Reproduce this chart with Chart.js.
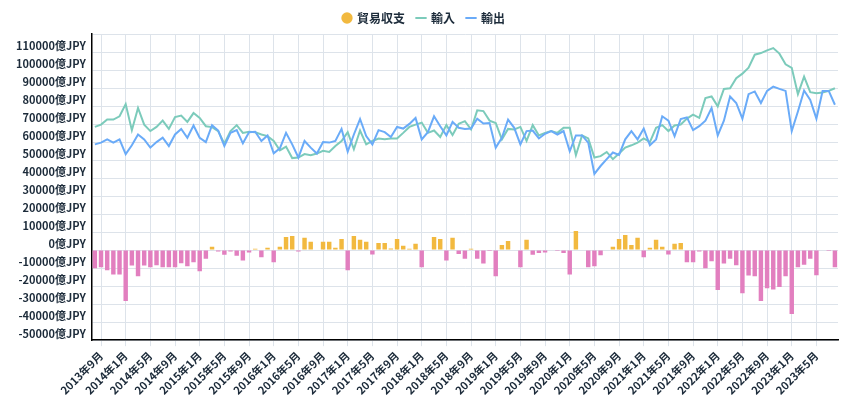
<!DOCTYPE html>
<html><head><meta charset="utf-8">
<script src="https://cdn.jsdelivr.net/npm/chart.js@4/dist/chart.umd.min.js"></script>
<style>html,body{margin:0;padding:0;background:#fff}#w{width:850px;height:400px}</style>
</head><body><div id="w"><canvas id="c"></canvas></div>
<script>
const startYear = 2013, startMonth = 8, monthCount = 121;
const categories = [];
for (let k = 0; k < monthCount; k++) {
  const m = (startMonth - 1 + k) % 12 + 1, y = startYear + Math.floor((startMonth - 1 + k) / 12);
  categories.push(y + '年' + m + '月');
}
const imports = [68.4,69.7,72.5,72.5,74.3,81.1,66.6,78.9,69.7,66.1,68.4,71.9,67.3,73.9,74.7,71.2,76.1,73.4,68.8,68.3,
66.1,59.1,66.1,69.4,65.1,65.7,65.5,64.2,63.3,60.6,55.4,57.5,51.1,51.4,53.3,52.7,53.6,55.1,54.5,57.8,
60.6,65.5,56.0,66.4,58.7,60.6,62.0,61.5,62.0,62.0,65.1,68.4,69.7,70.8,65.1,66.4,62.8,69.4,63.9,70.1,
71.6,67.0,77.6,77.2,71.9,70.6,61.5,67.3,67.0,68.4,60.6,69.4,63.7,65.1,66.1,65.1,67.9,67.9,52.7,63.7,
62.0,51.4,52.2,54.5,50.5,53.6,56.9,58.2,59.7,62.0,60.0,67.9,69.4,66.1,69.2,69.7,73.0,75.2,73.4,84.4,
85.3,79.8,89.5,89.9,95.4,98.0,101.3,108.5,109.4,110.9,112.2,109.1,103.2,101.2,86.6,96.3,87.7,87.1,87.5,88.4,89.9].map(v=>v*1000);
const exports = [58.7,59.7,61.5,59.7,61.5,53.3,58.2,64.2,61.5,56.9,60.0,62.4,57.8,64.2,67.3,62.4,69.2,62.4,60.0,69.4,
66.4,57.8,65.1,66.6,59.3,65.5,65.7,60.6,63.7,53.8,56.5,65.1,58.7,51.4,60.6,56.9,53.6,60.0,59.7,60.6,
67.3,54.7,64.2,72.8,63.3,58.7,66.6,65.5,62.8,68.4,67.5,70.1,73.4,61.5,65.5,74.3,68.8,63.7,71.2,67.9,
67.3,67.5,73.0,70.3,70.6,56.9,62.4,72.5,67.9,58.7,66.1,66.4,62.0,64.6,66.1,64.2,66.1,54.9,63.7,63.7,
59.7,42.3,46.7,50.5,54.2,52.9,61.5,66.1,61.5,67.5,58.2,61.5,74.3,71.9,63.3,72.8,73.7,66.6,68.8,71.9,
78.9,63.7,71.9,85.3,81.7,73.0,86.6,88.1,81.7,88.4,90.8,89.5,88.4,66.1,77.0,88.6,83.4,73.0,88.4,88.4,80.7].map(v=>v*1000);
const balance = [-10.1,-9.5,-11.2,-13.5,-13.5,-28.2,-8.6,-14.5,-8.6,-9.5,-8.4,-9.5,-9.5,-9.5,-7.3,-9.0,-6.8,-11.7,-4.8,1.8,
-0.7,-2.6,-0.7,-3.1,-5.7,-1.3,0.7,-4.0,1.3,-6.8,1.8,7.3,7.9,-0.7,6.8,4.6,0,4.6,4.6,1.3,
6.2,-11.2,7.9,5.7,4.6,-2.4,4.0,4.0,0.9,6.2,2.4,0.7,3.5,-9.5,0,7.3,6.2,-5.7,6.8,-2.2,
-4.8,0.7,-4.8,-7.5,-0.5,-14.5,2.9,5.1,0.4,-9.5,5.7,-2.6,-1.6,-1.3,0,-0.5,-1.6,-13.5,10.6,0,
-9.5,-9.0,-2.9,0,1.8,6.2,8.4,2.9,6.8,-4.0,1.3,5.7,1.8,-2.4,3.5,4.0,-6.8,-6.8,-0.7,-10.1,
-6.2,-22.1,-7.5,-4.8,-8.4,-24.0,-14.1,-14.5,-28.2,-21.2,-21.8,-20.5,-14.5,-35.5,-9.5,-8.1,-4.8,-13.9,0.4,-0.5,-9.5].map(v=>v*1000);

const POS='#f2b93f', NEG='#e27fbf', IMP='#7ccbbb', EXP='#6aabf8', TXT='#1c2b3a';
const font = {family:'"DejaVu Sans", "Noto Sans CJK JP", sans-serif', weight:'bold', size:11};
new Chart(document.getElementById('c'), {
  data: {
    labels: categories,
    datasets: [
      {type:'bar', label:'貿易収支', data:balance, order:2, pointStyle:'circle',
       backgroundColor: balance.map(v=>v>=0?POS:NEG), barPercentage:0.9, categoryPercentage:0.8},
      {type:'line', label:'輸入', data:imports, order:1, borderColor:IMP, backgroundColor:IMP, borderWidth:2,
       pointRadius:0, pointStyle:'line', tension:0},
      {type:'line', label:'輸出', data:exports, order:0, borderColor:EXP, backgroundColor:EXP, borderWidth:2,
       pointRadius:0, pointStyle:'line', tension:0}
    ]
  },
  options: {
    responsive:true, maintainAspectRatio:false, animation:false,
    layout:{padding:{left:10,right:12,top:0,bottom:0}},
    plugins:{
      legend:{position:'top', labels:{usePointStyle:true, color:TXT,
        font:{family:'"Noto Sans CJK JP", sans-serif', weight:'bold', size:12}, boxWidth:8, boxHeight:8, padding:12,
        sort:(a,b)=>a.datasetIndex-b.datasetIndex,
        generateLabels:(ch)=>{
          const l = Chart.defaults.plugins.legend.labels.generateLabels(ch);
          l.forEach(it=>{ if (it.datasetIndex===0){ it.fillStyle=POS; it.strokeStyle=POS; } });
          return l;
        }}},
      tooltip:{enabled:false}
    },
    scales:{
      x:{offset:true,
        grid:{offset:false, color:(c)=>c.index%4===1?'#dde3ea':'rgba(0,0,0,0)', drawTicks:true, tickLength:6},
        border:{color:'#000', width:1.5},
        ticks:{autoSkip:false, maxRotation:45, minRotation:45, color:TXT, font:{family:'"Noto Sans CJK JP", sans-serif', weight:'bold', size:11},
          callback:function(v,i){return i%4===1?this.getLabelForValue(v):'';}}},
      y:{min:-50000, max:120000,
        grid:{color:'#dde3ea', drawTicks:false},
        border:{color:'#000', width:1.5},
        ticks:{stepSize:10000, labelOffset:-6, padding:6, color:TXT, font:{family:'"Noto Sans CJK JP", sans-serif', weight:'bold', size:11},
          callback:(v)=>v===120000?'':v+'億JPY'}}
    }
  }
});
</script></body></html>
